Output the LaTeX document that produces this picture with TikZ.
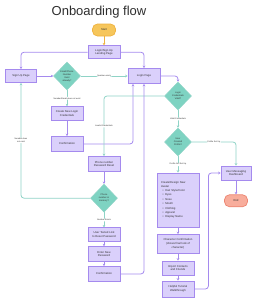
\documentclass[tikz,border=0pt]{standalone}
\usepackage{fontspec}
\setmainfont{Liberation Sans}
\usetikzlibrary{shapes.geometric,arrows.meta,positioning,calc}
\definecolor{boxfill}{HTML}{DAD0FB}
\definecolor{boxline}{HTML}{A58AEE}
\definecolor{tealfill}{HTML}{7ED3C2}
\definecolor{tealline}{HTML}{8FD3C6}
\definecolor{startfill}{HTML}{F6C65B}
\definecolor{startline}{HTML}{EFB23F}
\definecolor{endfill}{HTML}{F8AD9C}
\definecolor{endline}{HTML}{EC8470}
\definecolor{ink}{HTML}{333333}
\newcommand{\boxfont}{\fontsize{2.8}{3.8}\selectfont}
\newcommand{\askfont}{\fontsize{2.3}{3}\selectfont}
\newcommand{\edgefont}{\fontsize{2.1}{2.6}\selectfont}

\begin{document}
\begin{tikzpicture}[x=1pt, y=-1pt,
        font=\boxfont, text=ink,
        stepbox/.style={rectangle, draw=boxline, fill=boxfill, line width=0.8pt,
                        minimum width=32pt, minimum height=14pt, align=center, inner sep=1pt},
        question/.style={diamond, draw=tealline, fill=tealfill, line width=0.5pt,
                         minimum width=27pt, minimum height=28pt, inner sep=-1pt,
                         align=center, font=\askfont},
        terminal/.style={rectangle, rounded corners=5pt, line width=0.7pt,
                         minimum width=23pt, minimum height=12pt},
        flow/.style={-{Stealth[length=2.4pt, width=2.6pt]}, draw=boxline, line width=0.8pt,
                     rounded corners=3pt},
        answer/.style={flow, draw=tealline},
        tag/.style={fill=white, font=\edgefont, inner sep=0.6pt, align=center}
    ]
        \useasboundingbox (0,0) rectangle (257,300);
        \node[font=\fontsize{13}{15}\selectfont, text=ink!90!black] (title) at (99,12) {Onboarding flow};

        % left part: landing, sign up, reset
        \node[terminal, fill=startfill, draw=startline] (start) at (104,30) {Start};
        \node[stepbox, minimum height=13pt, below=9pt of start] (landing) {Login/Sign Up\\Landing Page};
        \node[stepbox, minimum width=31pt, minimum height=13pt] (signup) at (21,76) {Sign Up Page};
        \node[question] (qmail) at (67,76) {Email/Phone\\Number\\Exist\\already?};
        \node[stepbox, minimum height=15pt] (login) at (144,76) {Login Page};
        \node[stepbox, below=16pt of qmail] (create) {Create New Login\\Credentials};
        \node[stepbox, minimum height=15pt, below=15pt of create] (confirmA) {Confirmation};
        \node[stepbox, minimum height=15pt] (reset) at (104,164) {Phone number\\Password Reset};
        \node[question, below=12pt of reset] (qphone) {Phone\\number in\\memory?};
        \node[stepbox, below=15pt of qphone] (texted) {User Texted Link\\to Reset Password};
        \node[stepbox, minimum height=15pt, below=4pt of texted] (newpw) {Enter New\\Password};
        \node[stepbox, minimum height=15pt, below=4pt of newpw] (confirmB) {Confirmation};

        % right part: login checks, profile
        \node[question] (qcred) at (178,96) {Login\\Credentials\\Valid?};
        \node[question] (qprofile) at (178,142) {User\\Created\\Profile?};
        \node[stepbox, minimum width=42pt, minimum height=54pt, text width=34pt, align=left,
              inner sep=4pt] (avatar) at (178,200)
            {Create/Design New\\Avatar\\[0.5pt]
             \hspace*{1.5pt}\textbullet\hspace{1.8pt}Hair Style/Color\\[0.6pt]
             \hspace*{1.5pt}\textbullet\hspace{1.8pt}Eyes\\[0.6pt]
             \hspace*{1.5pt}\textbullet\hspace{1.8pt}Nose\\[0.6pt]
             \hspace*{1.5pt}\textbullet\hspace{1.8pt}Mouth\\[0.6pt]
             \hspace*{1.5pt}\textbullet\hspace{1.8pt}Clothing\\[0.6pt]
             \hspace*{1.5pt}\textbullet\hspace{1.8pt}Apparel\\[0.6pt]
             \hspace*{1.5pt}\textbullet\hspace{1.8pt}Display Name};
        \node[stepbox, minimum width=42pt, minimum height=19pt] (charconf) at (178,244)
            {Character Confirmation\\(shows final look of\\character)};
        \node[stepbox] (contacts) at (178,268) {Import Contacts\\and Friends};
        \node[stepbox, minimum height=16pt] (tutorial) at (178,289) {Helpful Tutorial\\Walkthrough};
        \node[stepbox, minimum width=30pt, minimum height=14pt] (dash) at (236,173) {User Messaging\\Dashboard};
        \node[terminal, fill=endfill, draw=endline, below=14pt of dash] (end) {End};

        % connectors
        \draw[flow, draw=startline] (start) -- (landing);
        \draw[flow] (landing.west) -| (signup.north);
        \draw[flow] (landing.east) -| (login.north);
        \draw[flow] (signup) -- (qmail);
        \draw[answer] (qmail) -- node[tag] {Number exists} (login);
        \draw[answer] (qmail) -- node[tag] {Number/Email does not exist} (create);
        \draw[flow] (create) -- (confirmA);
        \draw[flow] (confirmA.east) -| ([xshift=-11pt]login.south);
        \draw[flow] (login.east) -| (qcred.north);
        \draw[answer] (qcred.west) -| node[tag, pos=0.75] {Invalid Credentials} (reset.north);
        \draw[answer] (qcred) -- node[tag] {Valid Credentials} (qprofile);
        \draw[flow] (reset) -- (qphone);
        \draw[answer] (qphone.west) -| node[tag, pos=0.75] {Number does\\not exist} (signup.south);
        \draw[answer] (qphone) -- node[tag] {Number Exists} (texted);
        \draw[flow] (texted) -- (newpw);
        \draw[flow] (newpw) -- (confirmB);
        \draw[flow] (confirmB.east) -| (login.south);
        \draw[answer] (qprofile.east) -| node[tag, pos=0.25] {Profile Set Up} (dash.north);
        \draw[answer] (qprofile) -- node[tag] {Profile Not Set Up} (avatar);
        \draw[flow] (avatar) -- (charconf);
        \draw[flow] (charconf) -- (contacts);
        \draw[flow] (contacts) -- (tutorial);
        \draw[flow] (tutorial.east) -- ++(14,0) |- (dash.west);
        \draw[flow] (dash) -- (end);
    \end{tikzpicture}
\end{document}
